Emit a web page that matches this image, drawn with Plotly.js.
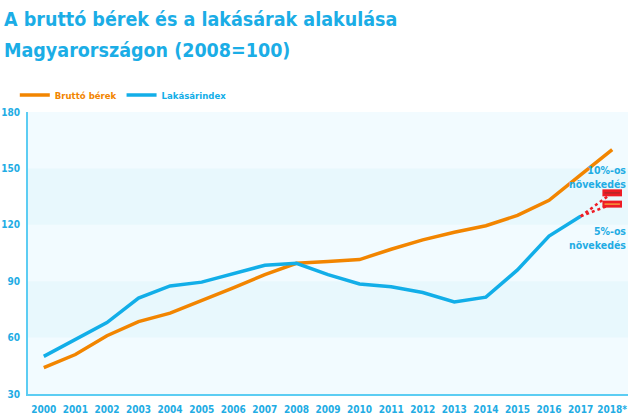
<!DOCTYPE html>
<html><head><meta charset="utf-8">
<script src="https://cdn.plot.ly/plotly-3.0.1.min.js"></script>
<style>html,body{margin:0;padding:0;background:#fff}#chart{width:640px;height:418px}</style>
</head><body><div id="chart"></div>
<script>
const years = ["2000","2001","2002","2003","2004","2005","2006","2007","2008","2009","2010","2011","2012","2013","2014","2015","2016","2017","2018*"];
const wages = [44, 51, 61, 68.5, 73, 79.5, 86.5, 93.5, 99.5, 100.5, 101.5, 107, 112, 116, 119.5, 125, 133, 146.5, 160];
const housing = [50, 59, 68, 81, 87.5, 89.5, 94, 98.5, 99.5, 93.5, 88.5, 87, 84, 79, 81.5, 96, 114, 124.5, null];
const scenYears = ["2017","2018*"];
const scen10 = [124.5, 137];
const scen5 = [124.5, 131];
const yTicks = [30, 60, 90, 120, 150, 180];
const titleLines = ["A bruttó bérek és a lakásárak alakulása", "Magyarországon (2008=100)"];

const FONT = "'DejaVu Sans Condensed','Liberation Sans Narrow',sans-serif";
const BLUE = "#12aee8";
const ORANGE = "#f28500";
const TXT = "#22ace4";

const traces = [
  {x: years, y: wages, name: "Bruttó bérek", mode: "lines", line: {color: ORANGE, width: 3.5}, hoverinfo: "skip"},
  {x: years, y: housing, name: "Lakásárindex", mode: "lines", line: {color: BLUE, width: 3.5}, hoverinfo: "skip"},
  {x: scenYears, y: scen10, mode: "lines", showlegend: false, line: {color: "#ee1c25", width: 2.5, dash: "dot"}, hoverinfo: "skip"},
  {x: scenYears, y: scen5, mode: "lines", showlegend: false, line: {color: "#ee1c25", width: 2.5, dash: "dot"}, hoverinfo: "skip"},
  {x: [scenYears[1], scenYears[1]], y: [scen10[1], scen5[1]], mode: "markers", showlegend: false, hoverinfo: "skip",
   marker: {symbol: "line-ew", size: 14, line: {color: "#ee1c25", width: 7}}},
  {x: [scenYears[1], scenYears[1]], y: [scen10[1], scen5[1]], mode: "markers", showlegend: false, hoverinfo: "skip",
   marker: {symbol: "line-ew", size: 11, line: {color: ["#b22a2a", "#f59a3a"], width: 1.5}}}
];

const shapes = [];
for (let i = 0; i + 1 < yTicks.length; i++) {
  if (i % 2 === 0) continue;
  shapes.push({type: "rect", xref: "paper", x0: 0, x1: 1, yref: "y", y0: yTicks[i], y1: yTicks[i + 1],
    fillcolor: "#e8f8fd", line: {width: 0}, layer: "below"});
}

const PH = 282;
const py = (px) => (394 - px) / PH;

const layout = {
  width: 640, height: 418,
  margin: {l: 28, r: 12, t: 112, b: 24, pad: 0, autoexpand: false},
  paper_bgcolor: "#ffffff",
  plot_bgcolor: "#f2fbff",
  font: {family: FONT, color: TXT},
  showlegend: true,
  legend: {orientation: "h", x: -0.022, xanchor: "left", y: py(95), yanchor: "middle",
    font: {family: FONT, size: 9.5, color: ORANGE, weight: "bold"},
    bgcolor: "rgba(0,0,0,0)", itemwidth: 30},
  xaxis: {type: "category", range: [-0.5, 18.5], showgrid: false, zeroline: false,
    showline: true, linecolor: "#5ccdf3", linewidth: 2, ticks: "", fixedrange: true, ticklabelstandoff: 5,
    tickfont: {family: FONT, size: 10, color: TXT, weight: "bold"}},
  yaxis: {range: [30, 180], tickvals: yTicks, showgrid: false, zeroline: false,
    showline: true, linecolor: "#5ccdf3", linewidth: 2, ticks: "", ticklabelstandoff: 4,
    tickfont: {family: FONT, size: 10, color: TXT, weight: "bold"}},
  shapes: shapes,
  annotations: [
    {xref: "paper", yref: "paper", x: -0.043, y: py(19), xanchor: "left", yanchor: "middle",
     text: "<b>" + titleLines[0] + "</b>", showarrow: false, font: {family: FONT, size: 19.5, color: "#1badE6"}},
    {xref: "paper", yref: "paper", x: -0.043, y: py(51), xanchor: "left", yanchor: "middle",
     text: "<b>" + titleLines[1] + "</b>", showarrow: false, font: {family: FONT, size: 19.5, color: "#1badE6"}},
    {xref: "paper", yref: "y", x: 1.0, y: 145.5, xanchor: "right", yanchor: "middle", align: "right",
     text: "<b>10%-os<br>növekedés</b>", showarrow: false, font: {family: FONT, size: 10.5, color: TXT}},
    {xref: "paper", yref: "y", x: 1.0, y: 113, xanchor: "right", yanchor: "middle", align: "right",
     text: "<b>5%-os<br>növekedés</b>", showarrow: false, font: {family: FONT, size: 10.5, color: TXT}}
  ]
};
Plotly.newPlot("chart", traces, layout, {displayModeBar: false, staticPlot: true}).then(() => {
  document.querySelectorAll(".legend .traces").forEach((g, i) => {
    const t = g.querySelector("text");
    if (t) t.style.fill = i === 0 ? ORANGE : BLUE;
  });
});
</script></body></html>
